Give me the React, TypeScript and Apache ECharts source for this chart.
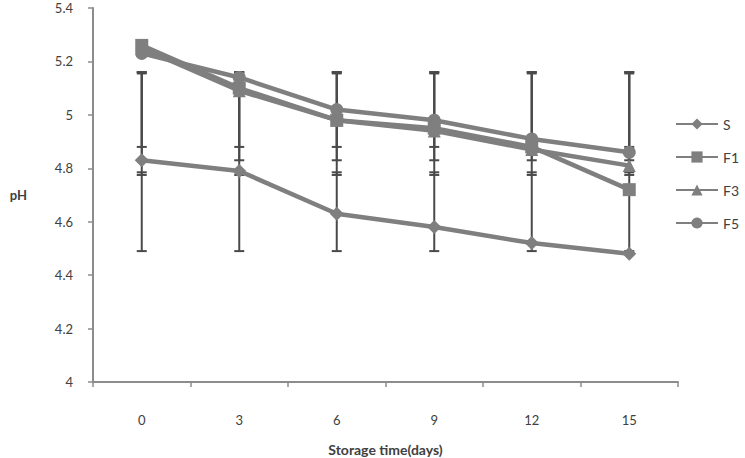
import React, { useEffect, useRef } from "react";
import * as echarts from "echarts";

const categories = ["0", "3", "6", "9", "12", "15"];
const seriesNames = ["S", "F1", "F3", "F5"];
const sValues = [4.83, 4.79, 4.63, 4.58, 4.52, 4.48];
const f1Values = [5.26, 5.1, 4.98, 4.95, 4.88, 4.72];
const f3Values = [5.25, 5.09, 4.98, 4.94, 4.87, 4.81];
const f5Values = [5.23, 5.14, 5.02, 4.98, 4.91, 4.86];
const errLow = [4.49, 4.775, 4.83, 4.88];
const errHigh = [4.785, 5.16, 5.155, 5.16];
const symbols = ["diamond", "rect", "triangle", "circle"];
const symbolSizes = [14, 13, 13, 13];
const yTicks = [4, 4.2, 4.4, 4.6, 4.8, 5, 5.2, 5.4];

const LINE = "#7f7f7f";
const FONT = "Lato, 'Open Sans', sans-serif";

export default function App() {
  const ref = useRef<HTMLDivElement>(null);
  useEffect(() => {
    if (!ref.current) return;
    const chart = echarts.init(ref.current, null, { renderer: "svg" });
    const values = [sValues, f1Values, f3Values, f5Values];
    const errData: number[][] = [];
    values.forEach((_, si) => {
      categories.forEach((_c, ci) => {
        errData.push([ci, errLow[si], errHigh[si]]);
      });
    });
    const lineSeries = seriesNames.map((name, i) => ({
      name,
      type: "line",
      data: values[i],
      symbol: symbols[i],
      symbolSize: symbolSizes[i],
      showSymbol: true,
      z: 3,
      lineStyle: { color: LINE, width: 4.5 },
      itemStyle: { color: LINE, borderWidth: 0 },
    }));
    chart.setOption({
      animation: false,
      textStyle: { fontFamily: FONT },
      grid: { left: 93, right: 67, top: 8, bottom: 76, outerBoundsMode: "none", containLabel: false },
      legend: {
        data: seriesNames,
        orient: "vertical",
        left: 670,
        top: 112,
        itemWidth: 42,
        itemHeight: 14,
        itemGap: 19,
        textStyle: { color: "#404040", fontSize: 14, fontFamily: FONT },
      },
      xAxis: {
        type: "category",
        data: categories,
        boundaryGap: true,
        name: "Storage time(days)",
        nameLocation: "middle",
        nameGap: 60,
        nameTextStyle: { fontWeight: "bold", fontSize: 14, color: "#404040", fontFamily: FONT },
        axisLine: { lineStyle: { color: "#8c8c8c", width: 2 } },
        axisTick: { show: true, alignWithLabel: false, length: 5, lineStyle: { color: "#8c8c8c", width: 1.5 } },
        axisLabel: { color: "#404040", fontSize: 13, margin: 31 },
        splitLine: { show: false },
      },
      yAxis: {
        type: "value",
        min: 4,
        max: 5.4,
        interval: 0.2,
        name: "pH",
        nameLocation: "middle",
        nameRotate: 0,
        nameGap: 66,
        nameTextStyle: { fontWeight: "bold", fontSize: 13, color: "#404040", fontFamily: FONT },
        axisLine: { show: true, lineStyle: { color: "#8c8c8c", width: 2 } },
        axisTick: { show: true, length: 5, lineStyle: { color: "#8c8c8c", width: 1.5 } },
        axisLabel: {
          color: "#404040",
          fontSize: 13,
          margin: 20,
          formatter: (v: number) => {
            const t = yTicks.find((x) => Math.abs(x - v) < 1e-6);
            return t === undefined ? "" : String(t);
          },
        },
        splitLine: { show: false },
      },
      series: [
        {
          type: "custom",
          name: "err",
          z: 1,
          silent: true,
          data: errData,
          renderItem: (_params: any, api: any) => {
            const x = api.value(0);
            const lo = api.coord([x, api.value(1)]);
            const hi = api.coord([x, api.value(2)]);
            const hw = 5;
            const style = { stroke: "#4a4a4a", lineWidth: 2 };
            return {
              type: "group",
              children: [
                { type: "line", shape: { x1: lo[0], y1: lo[1], x2: hi[0], y2: hi[1] }, style },
                { type: "line", shape: { x1: lo[0] - hw, y1: lo[1], x2: lo[0] + hw, y2: lo[1] }, style },
                { type: "line", shape: { x1: hi[0] - hw, y1: hi[1], x2: hi[0] + hw, y2: hi[1] }, style },
              ],
            };
          },
        },
        ...lineSeries,
      ],
    });
    return () => chart.dispose();
  }, []);
  return <div ref={ref} style={{ width: 745, height: 458, position: "absolute", left: 0, top: 0 }} />;
}
